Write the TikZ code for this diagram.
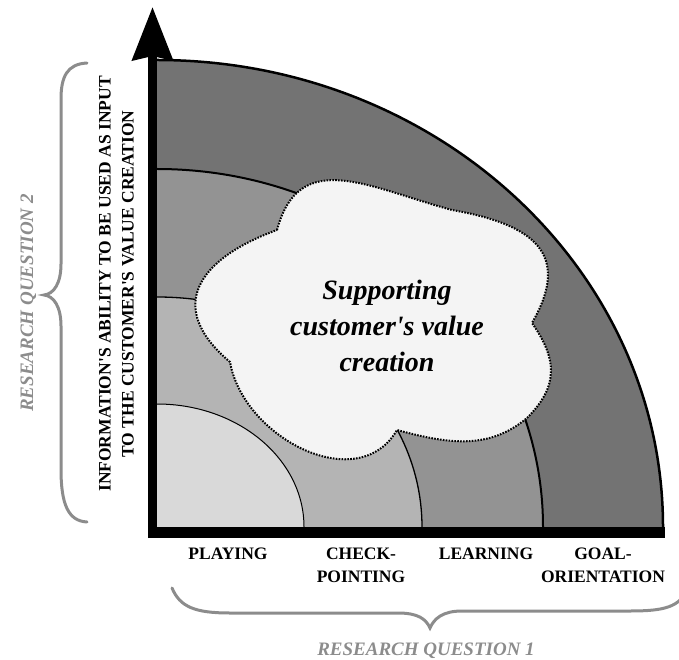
\documentclass[tikz,border=0pt]{standalone}
\usepackage{fontspec}
\setmainfont{Liberation Serif}
\usetikzlibrary{arrows.meta, positioning}
\definecolor{ringA}{gray}{0.45}
\definecolor{ringB}{gray}{0.576}
\definecolor{ringC}{gray}{0.706}
\definecolor{ringD}{gray}{0.85}
\definecolor{cloudfill}{gray}{0.957}
\definecolor{rqgray}{gray}{0.55}
\tikzstyle{phase}=[font=\fontsize{17.5}{23}\selectfont\bfseries, align=center, inner sep=0pt]
\tikzstyle{rq}=[font=\fontsize{19}{23}\selectfont\bfseries\itshape, text=rqgray, inner sep=0pt, anchor=base]
\tikzstyle{brace}=[draw=rqgray, line width=3pt, line cap=round]
\tikzstyle{cloudline}=[fill=cloudfill, line width=2pt, dash pattern=on 1.6pt off 1.3pt]

\begin{document}
\begin{tikzpicture}[x=1pt, y=1pt]
    \useasboundingbox (0,0) rectangle (679,659);
    \clip (0,0) rectangle (679,659);
    % rings, outer to inner
    \foreach \rx/\ry/\col/\lw in {506/467/ringA/2.5, 386/358/ringB/2, 265/230/ringC/1.3, 147/123/ringD/1} {
      \fill[\col] (157,132) -- ++(\rx,0) arc[start angle=0, end angle=90, x radius=\rx, y radius=\ry] -- cycle;
      \draw[line width=\lw pt] (157+\rx,132) arc[start angle=0, end angle=90, x radius=\rx, y radius=\ry];
    }
    % cloud
    \draw[cloudline] (277,429) to[out=75, in=165, looseness=1.25] (452,449)
      to[out=-10, in=60, looseness=1.5] (532,336)
      to[out=-55, in=45, looseness=1.2] (527,241)
      to[out=-140, in=-15, looseness=1] (397,229)
      to[out=-120, in=-80, looseness=1.1] (230,297)
      to[out=140, in=200, looseness=1.55] (277,429) -- cycle;
    \node[font=\fontsize{28}{36}\selectfont\bfseries\itshape, align=center] (value) at (387,333)
      {Supporting\\customer\textquotesingle s value\\creation};
    % axes
    \draw[line width=11pt] (148,126.5) -- (665,126.5);
    \draw[line width=8.5pt, -{Stealth[length=53pt, width=40pt, inset=4pt]}] (152.5,121) -- (152.5,652);
    % phases
    \node[phase, anchor=north] (playing) at (228,111) {PLAYING};
    \node[phase, anchor=north] (checking) at (361,111) {CHECK-\\POINTING};
    \node[phase, anchor=north] (learning) at (486,111) {LEARNING};
    \node[phase, anchor=north] (goal) at (603,111) {GOAL-\\ORIENTATION};
    \node[phase, rotate=90] (ability) at (116.5,375)
      {INFORMATION\textquotesingle S ABILITY TO BE USED AS INPUT\\TO THE CUSTOMER\textquotesingle S VALUE CREATION};
    % research questions
    \draw[brace] (87,596) .. controls (67,595) and (61,582) .. (61,560) -- (61,395)
      .. controls (61,376) and (54,365) .. (44,364) .. controls (54,363) and (61,352) .. (61,333)
      -- (61,190) .. controls (61,155) and (68,138) .. (87,137);
    \node[rq, rotate=90] (rq2) at (33,356) {RESEARCH QUESTION 2};
    \draw[brace] (172,71) .. controls (180,52) and (195,46) .. (230,46) -- (398,46)
      .. controls (418,46) and (426,40) .. (430,31) .. controls (434,40) and (442,48) .. (462,48)
      -- (630,48) .. controls (665,48) and (680,52) .. (688,71);
    \node[rq] (rq1) at (426,4) {RESEARCH QUESTION 1};
\end{tikzpicture}
\end{document}
